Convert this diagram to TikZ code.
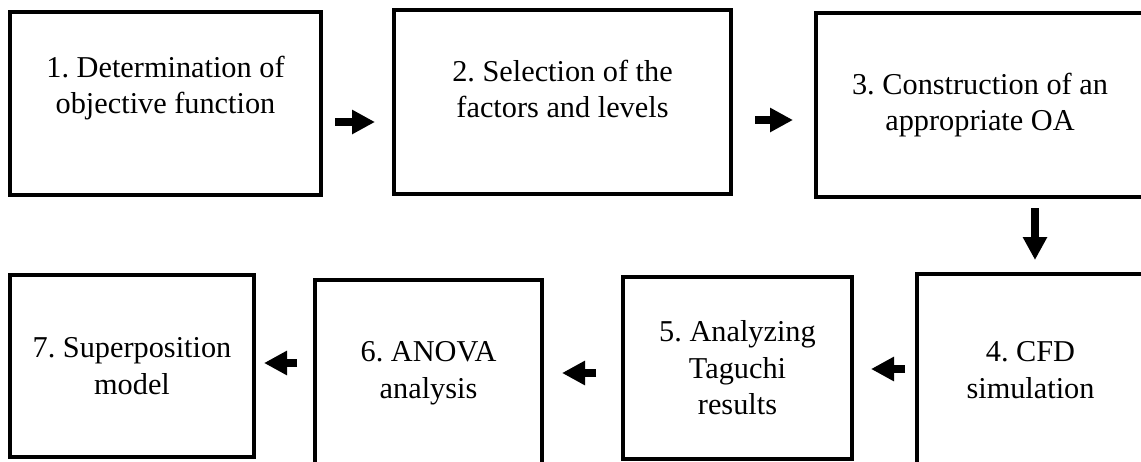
\documentclass[tikz,border=0pt]{standalone}
\usepackage{fontspec}
\setmainfont{Liberation Serif}
\usetikzlibrary{arrows.meta}
\tikzset{
  etape/.style={draw, line width=4pt, align=center, inner sep=0pt,
    font=\fontsize{30.3}{36.5}\selectfont\frenchspacing},
  fleche/.style={line width=8pt, -{Triangle[length=23pt,width=23pt]}}
}
\begin{document}
\begin{tikzpicture}[x=1pt,y=-1pt]
    % Cadre de la figure
    \useasboundingbox (0,0) rectangle (1141,461);

    % Étapes de la première ligne
    \node[etape, minimum width=311pt, minimum height=183pt, text depth=37pt] (E1) at (165.5,103.5) {1. Determination of\\objective function};
    \node[etape, minimum width=337pt, minimum height=184pt, text depth=26pt] (E2) at (562.5,102) {2. Selection of the\\factors and levels};
    \node[etape, minimum width=328pt, minimum height=184pt] (E3) at (980,105) {3. Construction of an\\appropriate OA};

    % Étapes de la deuxième ligne
    \node[etape, minimum width=227pt, minimum height=192pt] (E4) at (1030.5,370) {4. CFD\\simulation};
    \node[etape, minimum width=229pt, minimum height=182pt] (E5) at (737.5,368) {5. Analyzing\\Taguchi\\results};
    \node[etape, minimum width=227pt, minimum height=186pt] (E6) at (428.5,373) {6. ANOVA\\analysis};
    \node[etape, minimum width=244pt, minimum height=182pt] (E7) at (132,366) {7. Superposition\\model};

    % Flèches entre les étapes
    \draw[fleche, shorten <=12pt, shorten >=17pt] ([yshift=-18.5pt]E1.east) -- ([yshift=-18.5pt]E1.east -| E2.west);
    \draw[fleche, shorten <=22pt, shorten >=21pt] ([yshift=-18pt]E2.east) -- ([yshift=-18pt]E2.east -| E3.west);
    \draw[fleche, shorten <=9pt, shorten >=12pt] ([xshift=55pt]E3.south) -- ([xshift=55pt]E3.south |- E4.north);
    \draw[fleche, shorten <=10pt, shorten >=17pt] ([yshift=1pt]E4.west) -- ([yshift=1pt]E4.west -| E5.east);
    \draw[fleche, shorten <=25pt, shorten >=18pt] ([yshift=-5pt]E5.west) -- ([yshift=-5pt]E5.west -| E6.east);
    \draw[fleche, shorten <=16pt, shorten >=8pt] ([yshift=10pt]E6.west) -- ([yshift=10pt]E6.west -| E7.east);
\end{tikzpicture}
\end{document}
